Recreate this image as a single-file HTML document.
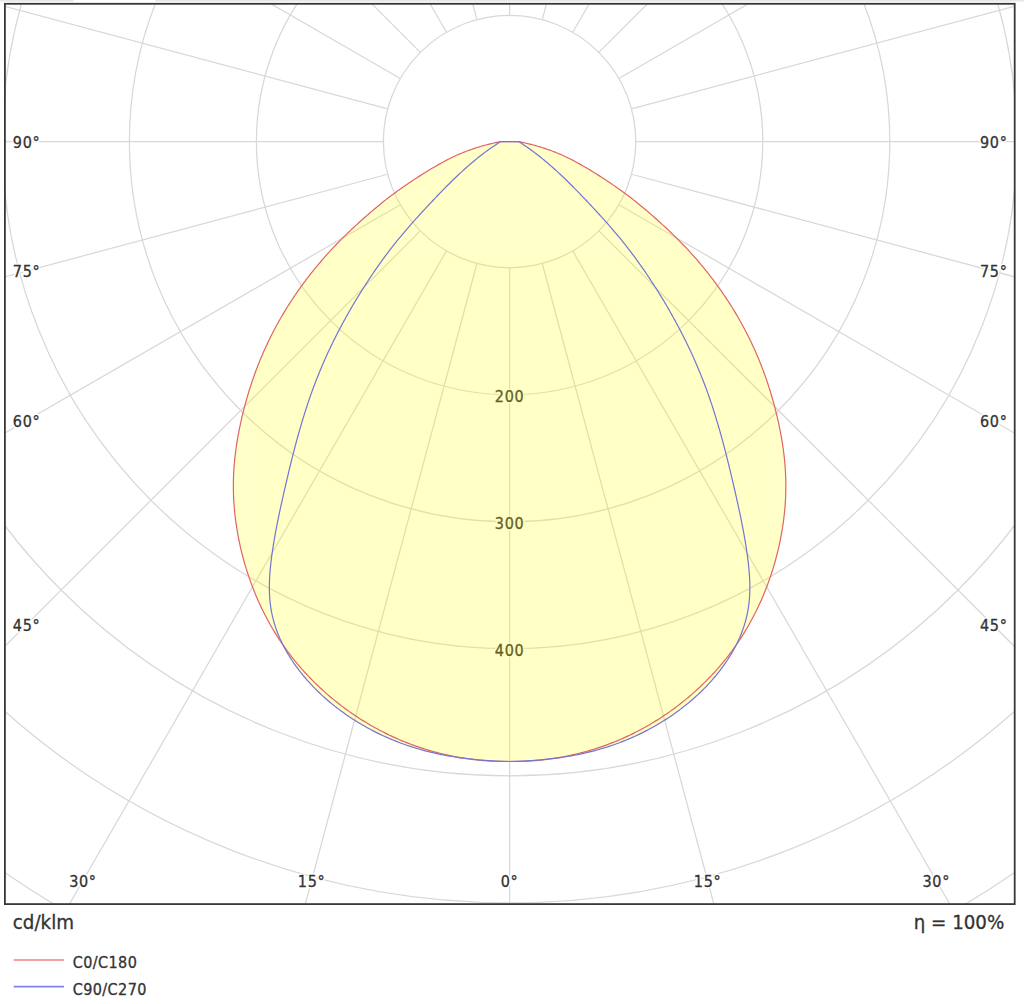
<!DOCTYPE html>
<html><head><meta charset="utf-8"><style>
html,body{margin:0;padding:0;background:#fff;}
body{width:1024px;height:1004px;overflow:hidden;position:relative;}
svg{position:absolute;left:0;top:0;}
</style></head><body>
<svg width="1024" height="1004" viewBox="0 0 1024 1004">
<defs><clipPath id="c"><rect x="4.9" y="3.8" width="1009.8000000000001" height="900.3000000000001"/></clipPath></defs>
<rect x="0" y="0" width="1024" height="1004" fill="#fff"/>
<rect x="0" y="0" width="73.5" height="1.6" fill="#e6e6e6"/><rect x="155.5" y="0" width="868.5" height="1.6" fill="#e6e6e6"/>
<g clip-path="url(#c)">
<g fill="none" stroke="#d8d8d8" stroke-width="1.25">
<circle cx="509.6" cy="141.6" r="126.20"/>
<circle cx="509.6" cy="141.6" r="253.20"/>
<circle cx="509.6" cy="141.6" r="380.20"/>
<circle cx="509.6" cy="141.6" r="507.20"/>
<circle cx="509.6" cy="141.6" r="634.20"/>
<circle cx="509.6" cy="141.6" r="761.20"/>
<circle cx="509.6" cy="141.6" r="888.20"/>
<circle cx="509.6" cy="141.6" r="1015.20"/>
<line x1="509.60" y1="267.80" x2="509.60" y2="1641.60"/>
<line x1="542.26" y1="263.50" x2="897.83" y2="1590.49"/>
<line x1="572.70" y1="250.89" x2="1259.60" y2="1440.64"/>
<line x1="598.84" y1="230.84" x2="1570.26" y2="1202.26"/>
<line x1="618.89" y1="204.70" x2="1808.64" y2="891.60"/>
<line x1="631.50" y1="174.26" x2="1958.49" y2="529.83"/>
<line x1="635.80" y1="141.60" x2="2009.60" y2="141.60"/>
<line x1="631.50" y1="108.94" x2="1958.49" y2="-246.63"/>
<line x1="618.89" y1="78.50" x2="1808.64" y2="-608.40"/>
<line x1="598.84" y1="52.36" x2="1570.26" y2="-919.06"/>
<line x1="572.70" y1="32.31" x2="1259.60" y2="-1157.44"/>
<line x1="542.26" y1="19.70" x2="897.83" y2="-1307.29"/>
<line x1="509.60" y1="15.40" x2="509.60" y2="-1358.40"/>
<line x1="476.94" y1="19.70" x2="121.37" y2="-1307.29"/>
<line x1="446.50" y1="32.31" x2="-240.40" y2="-1157.44"/>
<line x1="420.36" y1="52.36" x2="-551.06" y2="-919.06"/>
<line x1="400.31" y1="78.50" x2="-789.44" y2="-608.40"/>
<line x1="387.70" y1="108.94" x2="-939.29" y2="-246.63"/>
<line x1="383.40" y1="141.60" x2="-990.40" y2="141.60"/>
<line x1="387.70" y1="174.26" x2="-939.29" y2="529.83"/>
<line x1="400.31" y1="204.70" x2="-789.44" y2="891.60"/>
<line x1="420.36" y1="230.84" x2="-551.06" y2="1202.26"/>
<line x1="446.50" y1="250.89" x2="-240.40" y2="1440.64"/>
<line x1="476.94" y1="263.50" x2="121.37" y2="1590.49"/>
</g>
<g font-family="'DejaVu Sans Condensed','DejaVu Sans',sans-serif" font-stretch="condensed" font-size="16" fill="#fff" stroke="#fff" stroke-width="3.2" stroke-linejoin="round" letter-spacing="0.7">
<text x="12.80" y="147.70" text-anchor="start">90°</text>
<text x="1007.60" y="147.70" text-anchor="end">90°</text>
<text x="12.80" y="277.17" text-anchor="start">75°</text>
<text x="1007.60" y="277.17" text-anchor="end">75°</text>
<text x="12.80" y="426.68" text-anchor="start">60°</text>
<text x="1007.60" y="426.68" text-anchor="end">60°</text>
<text x="12.80" y="630.90" text-anchor="start">45°</text>
<text x="1007.60" y="630.90" text-anchor="end">45°</text>
<text x="82.94" y="886.65" text-anchor="middle">30°</text>
<text x="936.26" y="886.65" text-anchor="middle">30°</text>
<text x="311.59" y="886.65" text-anchor="middle">15°</text>
<text x="707.61" y="886.65" text-anchor="middle">15°</text>
<text x="509.60" y="886.65" text-anchor="middle">0°</text>
<text x="509.60" y="401.80" text-anchor="middle">200</text>
<text x="509.60" y="528.80" text-anchor="middle">300</text>
<text x="509.60" y="655.80" text-anchor="middle">400</text>
</g>
<g font-family="'DejaVu Sans Condensed','DejaVu Sans',sans-serif" font-stretch="condensed" font-size="16" fill="#333" stroke="#333" stroke-width="0.3" letter-spacing="0.7">
<text id="L0" x="12.80" y="147.70" text-anchor="start">90°</text>
<text id="L1" x="1007.60" y="147.70" text-anchor="end">90°</text>
<text id="L2" x="12.80" y="277.17" text-anchor="start">75°</text>
<text id="L3" x="1007.60" y="277.17" text-anchor="end">75°</text>
<text id="L4" x="12.80" y="426.68" text-anchor="start">60°</text>
<text id="L5" x="1007.60" y="426.68" text-anchor="end">60°</text>
<text id="L6" x="12.80" y="630.90" text-anchor="start">45°</text>
<text id="L7" x="1007.60" y="630.90" text-anchor="end">45°</text>
<text id="L8" x="82.94" y="886.65" text-anchor="middle">30°</text>
<text id="L9" x="936.26" y="886.65" text-anchor="middle">30°</text>
<text id="L10" x="311.59" y="886.65" text-anchor="middle">15°</text>
<text id="L11" x="707.61" y="886.65" text-anchor="middle">15°</text>
<text id="L12" x="509.60" y="886.65" text-anchor="middle">0°</text>
<text id="L13" x="509.60" y="401.80" text-anchor="middle">200</text>
<text id="L14" x="509.60" y="528.80" text-anchor="middle">300</text>
<text id="L15" x="509.60" y="655.80" text-anchor="middle">400</text>
</g>
<g opacity="0.22"><path d="M509.60,141.60 L500.60,141.60 L497.99,142.13 L495.44,142.68 L492.95,143.25 L490.52,143.83 L488.16,144.42 L485.85,145.02 L483.60,145.64 L481.41,146.26 L479.28,146.89 L477.21,147.53 L475.18,148.18 L473.22,148.83 L471.30,149.48 L469.44,150.14 L467.63,150.80 L465.87,151.46 L464.16,152.12 L462.49,152.78 L460.87,153.44 L459.27,154.11 L457.70,154.78 L456.14,155.47 L454.59,156.18 L453.03,156.92 L451.45,157.68 L449.86,158.47 L448.24,159.29 L446.59,160.15 L444.91,161.04 L443.20,161.96 L441.47,162.91 L439.72,163.88 L437.95,164.88 L436.17,165.91 L434.37,166.95 L432.56,168.02 L430.75,169.10 L428.92,170.20 L427.10,171.32 L425.27,172.44 L423.45,173.58 L421.62,174.73 L419.81,175.88 L418.00,177.04 L416.21,178.20 L414.43,179.36 L412.66,180.52 L410.92,181.68 L409.19,182.84 L407.49,183.99 L405.82,185.13 L404.16,186.27 L402.53,187.40 L400.92,188.53 L399.33,189.66 L397.76,190.79 L396.20,191.92 L394.66,193.04 L393.13,194.18 L391.62,195.31 L390.11,196.45 L388.61,197.59 L387.12,198.74 L385.64,199.90 L384.16,201.07 L382.68,202.25 L381.20,203.45 L379.70,204.67 L378.19,205.92 L376.65,207.19 L375.10,208.49 L373.53,209.81 L371.94,211.16 L370.33,212.53 L368.71,213.93 L367.07,215.35 L365.43,216.79 L363.77,218.26 L362.10,219.75 L360.43,221.25 L358.74,222.78 L357.05,224.32 L355.36,225.88 L353.66,227.46 L351.96,229.05 L350.26,230.66 L348.56,232.29 L346.86,233.93 L345.17,235.58 L343.48,237.25 L341.79,238.92 L340.11,240.61 L338.44,242.31 L336.78,244.01 L335.13,245.73 L333.49,247.45 L331.86,249.18 L330.25,250.92 L328.65,252.67 L327.06,254.42 L325.48,256.18 L323.92,257.95 L322.37,259.72 L320.83,261.51 L319.31,263.29 L317.79,265.09 L316.30,266.89 L314.81,268.70 L313.33,270.52 L311.87,272.34 L310.43,274.17 L308.99,276.01 L307.57,277.85 L306.16,279.71 L304.76,281.56 L303.38,283.43 L302.01,285.30 L300.65,287.17 L299.31,289.05 L297.98,290.94 L296.66,292.84 L295.36,294.74 L294.07,296.65 L292.79,298.56 L291.52,300.48 L290.27,302.41 L289.03,304.34 L287.81,306.28 L286.60,308.22 L285.40,310.17 L284.22,312.12 L283.04,314.08 L281.89,316.05 L280.74,318.02 L279.61,320.00 L278.50,321.98 L277.39,323.97 L276.30,325.96 L275.23,327.96 L274.16,329.96 L273.11,331.97 L272.08,333.99 L271.06,336.01 L270.05,338.03 L269.06,340.06 L268.08,342.09 L267.11,344.13 L266.16,346.18 L265.22,348.23 L264.29,350.28 L263.38,352.34 L262.49,354.40 L261.60,356.47 L260.73,358.54 L259.88,360.62 L259.04,362.70 L258.21,364.79 L257.39,366.88 L256.59,368.98 L255.80,371.08 L255.02,373.19 L254.26,375.30 L253.51,377.42 L252.77,379.54 L252.05,381.67 L251.34,383.80 L250.64,385.94 L249.95,388.08 L249.28,390.23 L248.61,392.39 L247.96,394.55 L247.33,396.71 L246.70,398.88 L246.09,401.06 L245.49,403.24 L244.90,405.43 L244.32,407.62 L243.75,409.82 L243.19,412.03 L242.65,414.24 L242.12,416.45 L241.60,418.68 L241.09,420.90 L240.60,423.13 L240.12,425.37 L239.65,427.61 L239.20,429.86 L238.76,432.11 L238.33,434.37 L237.92,436.63 L237.53,438.89 L237.15,441.16 L236.79,443.43 L236.44,445.71 L236.11,447.99 L235.80,450.27 L235.50,452.56 L235.22,454.85 L234.96,457.14 L234.72,459.43 L234.50,461.73 L234.29,464.03 L234.11,466.34 L233.94,468.64 L233.79,470.95 L233.67,473.26 L233.56,475.57 L233.48,477.88 L233.42,480.20 L233.38,482.51 L233.36,484.83 L233.36,487.15 L233.38,489.46 L233.43,491.78 L233.49,494.10 L233.58,496.42 L233.68,498.74 L233.81,501.06 L233.95,503.38 L234.12,505.69 L234.31,508.01 L234.51,510.32 L234.74,512.64 L234.98,514.95 L235.25,517.26 L235.53,519.57 L235.84,521.87 L236.16,524.17 L236.50,526.47 L236.86,528.77 L237.24,531.06 L237.64,533.35 L238.05,535.64 L238.49,537.92 L238.94,540.20 L239.41,542.48 L239.90,544.74 L240.41,547.01 L240.93,549.27 L241.48,551.52 L242.03,553.77 L242.61,556.02 L243.21,558.25 L243.82,560.48 L244.44,562.71 L245.09,564.93 L245.75,567.14 L246.43,569.34 L247.12,571.54 L247.83,573.73 L248.56,575.91 L249.30,578.09 L250.06,580.26 L250.83,582.41 L251.62,584.57 L252.43,586.71 L253.25,588.84 L254.09,590.97 L254.95,593.09 L255.82,595.20 L256.71,597.30 L257.61,599.39 L258.53,601.47 L259.47,603.55 L260.43,605.61 L261.40,607.67 L262.38,609.72 L263.39,611.76 L264.40,613.79 L265.44,615.81 L266.49,617.82 L267.56,619.83 L268.65,621.82 L269.75,623.80 L270.87,625.78 L272.01,627.74 L273.16,629.70 L274.33,631.64 L275.52,633.58 L276.72,635.50 L277.94,637.42 L279.18,639.32 L280.43,641.22 L281.70,643.10 L282.99,644.98 L284.29,646.84 L285.62,648.70 L286.95,650.54 L288.31,652.38 L289.68,654.20 L291.07,656.01 L292.48,657.81 L293.91,659.60 L295.35,661.38 L296.81,663.15 L298.28,664.90 L299.77,666.65 L301.28,668.38 L302.80,670.10 L304.34,671.81 L305.89,673.51 L307.46,675.20 L309.05,676.87 L310.65,678.53 L312.26,680.18 L313.89,681.81 L315.54,683.43 L317.19,685.04 L318.87,686.64 L320.56,688.22 L322.26,689.79 L323.97,691.34 L325.70,692.89 L327.45,694.41 L329.20,695.93 L330.97,697.43 L332.76,698.91 L334.55,700.38 L336.36,701.84 L338.18,703.28 L340.02,704.71 L341.86,706.12 L343.72,707.52 L345.59,708.90 L347.47,710.27 L349.37,711.62 L351.27,712.95 L353.19,714.27 L355.12,715.58 L357.06,716.86 L359.01,718.13 L360.97,719.39 L362.94,720.63 L364.93,721.85 L366.92,723.06 L368.92,724.24 L370.94,725.41 L372.96,726.57 L374.99,727.71 L377.03,728.82 L379.08,729.93 L381.14,731.01 L383.21,732.08 L385.29,733.12 L387.38,734.15 L389.48,735.17 L391.58,736.16 L393.69,737.13 L395.81,738.09 L397.94,739.03 L400.08,739.95 L402.22,740.85 L404.38,741.73 L406.54,742.59 L408.70,743.43 L410.88,744.26 L413.06,745.07 L415.25,745.85 L417.44,746.62 L419.65,747.37 L421.85,748.10 L424.07,748.81 L426.29,749.50 L428.52,750.18 L430.76,750.83 L433.00,751.47 L435.24,752.08 L437.50,752.68 L439.76,753.26 L442.02,753.81 L444.29,754.35 L446.56,754.87 L448.84,755.37 L451.13,755.85 L453.42,756.31 L455.72,756.76 L458.02,757.18 L460.32,757.58 L462.63,757.96 L464.95,758.33 L467.26,758.67 L469.59,759.00 L471.91,759.30 L474.24,759.59 L476.58,759.86 L478.92,760.10 L481.26,760.33 L483.60,760.53 L485.95,760.72 L488.31,760.89 L490.66,761.04 L493.02,761.16 L495.38,761.27 L497.74,761.36 L500.11,761.43 L502.48,761.47 L504.85,761.50 L507.23,761.51 L509.60,761.50 L509.60,761.50 L511.97,761.51 L514.35,761.50 L516.72,761.47 L519.09,761.43 L521.46,761.36 L523.82,761.27 L526.18,761.16 L528.54,761.04 L530.89,760.89 L533.25,760.72 L535.60,760.53 L537.94,760.33 L540.28,760.10 L542.62,759.86 L544.96,759.59 L547.29,759.30 L549.61,759.00 L551.94,758.67 L554.25,758.33 L556.57,757.96 L558.88,757.58 L561.18,757.18 L563.48,756.76 L565.78,756.31 L568.07,755.85 L570.36,755.37 L572.64,754.87 L574.91,754.35 L577.18,753.81 L579.44,753.26 L581.70,752.68 L583.96,752.08 L586.20,751.47 L588.44,750.83 L590.68,750.18 L592.91,749.50 L595.13,748.81 L597.35,748.10 L599.55,747.37 L601.76,746.62 L603.95,745.85 L606.14,745.07 L608.32,744.26 L610.50,743.43 L612.66,742.59 L614.82,741.73 L616.98,740.85 L619.12,739.95 L621.26,739.03 L623.39,738.09 L625.51,737.13 L627.62,736.16 L629.72,735.17 L631.82,734.15 L633.91,733.12 L635.99,732.08 L638.06,731.01 L640.12,729.93 L642.17,728.82 L644.21,727.71 L646.24,726.57 L648.26,725.41 L650.28,724.24 L652.28,723.06 L654.27,721.85 L656.26,720.63 L658.23,719.39 L660.19,718.13 L662.14,716.86 L664.08,715.58 L666.01,714.27 L667.93,712.95 L669.83,711.62 L671.73,710.27 L673.61,708.90 L675.48,707.52 L677.34,706.12 L679.18,704.71 L681.02,703.28 L682.84,701.84 L684.65,700.38 L686.44,698.91 L688.23,697.43 L690.00,695.93 L691.75,694.41 L693.50,692.89 L695.23,691.34 L696.94,689.79 L698.64,688.22 L700.33,686.64 L702.01,685.04 L703.66,683.43 L705.31,681.81 L706.94,680.18 L708.55,678.53 L710.15,676.87 L711.74,675.20 L713.31,673.51 L714.86,671.81 L716.40,670.10 L717.92,668.38 L719.43,666.65 L720.92,664.90 L722.39,663.15 L723.85,661.38 L725.29,659.60 L726.72,657.81 L728.13,656.01 L729.52,654.20 L730.89,652.38 L732.25,650.54 L733.58,648.70 L734.91,646.84 L736.21,644.98 L737.50,643.10 L738.77,641.22 L740.02,639.32 L741.26,637.42 L742.48,635.50 L743.68,633.58 L744.87,631.64 L746.04,629.70 L747.19,627.74 L748.33,625.78 L749.45,623.80 L750.55,621.82 L751.64,619.83 L752.71,617.82 L753.76,615.81 L754.80,613.79 L755.81,611.76 L756.82,609.72 L757.80,607.67 L758.77,605.61 L759.73,603.55 L760.67,601.47 L761.59,599.39 L762.49,597.30 L763.38,595.20 L764.25,593.09 L765.11,590.97 L765.95,588.84 L766.77,586.71 L767.58,584.57 L768.37,582.41 L769.14,580.26 L769.90,578.09 L770.64,575.91 L771.37,573.73 L772.08,571.54 L772.77,569.34 L773.45,567.14 L774.11,564.93 L774.76,562.71 L775.38,560.48 L775.99,558.25 L776.59,556.02 L777.17,553.77 L777.72,551.52 L778.27,549.27 L778.79,547.01 L779.30,544.74 L779.79,542.48 L780.26,540.20 L780.71,537.92 L781.15,535.64 L781.56,533.35 L781.96,531.06 L782.34,528.77 L782.70,526.47 L783.04,524.17 L783.36,521.87 L783.67,519.57 L783.95,517.26 L784.22,514.95 L784.46,512.64 L784.69,510.32 L784.89,508.01 L785.08,505.69 L785.25,503.38 L785.39,501.06 L785.52,498.74 L785.62,496.42 L785.71,494.10 L785.77,491.78 L785.82,489.46 L785.84,487.15 L785.84,484.83 L785.82,482.51 L785.78,480.20 L785.72,477.88 L785.64,475.57 L785.53,473.26 L785.41,470.95 L785.26,468.64 L785.09,466.34 L784.91,464.03 L784.70,461.73 L784.48,459.43 L784.24,457.14 L783.98,454.85 L783.70,452.56 L783.40,450.27 L783.09,447.99 L782.76,445.71 L782.41,443.43 L782.05,441.16 L781.67,438.89 L781.28,436.63 L780.87,434.37 L780.44,432.11 L780.00,429.86 L779.55,427.61 L779.08,425.37 L778.60,423.13 L778.11,420.90 L777.60,418.68 L777.08,416.45 L776.55,414.24 L776.01,412.03 L775.45,409.82 L774.88,407.62 L774.30,405.43 L773.71,403.24 L773.11,401.06 L772.50,398.88 L771.87,396.71 L771.24,394.55 L770.59,392.39 L769.92,390.23 L769.25,388.08 L768.56,385.94 L767.86,383.80 L767.15,381.67 L766.43,379.54 L765.69,377.42 L764.94,375.30 L764.18,373.19 L763.40,371.08 L762.61,368.98 L761.81,366.88 L760.99,364.79 L760.16,362.70 L759.32,360.62 L758.47,358.54 L757.60,356.47 L756.71,354.40 L755.82,352.34 L754.91,350.28 L753.98,348.23 L753.04,346.18 L752.09,344.13 L751.12,342.09 L750.14,340.06 L749.15,338.03 L748.14,336.01 L747.12,333.99 L746.09,331.97 L745.04,329.96 L743.97,327.96 L742.90,325.96 L741.81,323.97 L740.70,321.98 L739.59,320.00 L738.46,318.02 L737.31,316.05 L736.16,314.08 L734.98,312.12 L733.80,310.17 L732.60,308.22 L731.39,306.28 L730.17,304.34 L728.93,302.41 L727.68,300.48 L726.41,298.56 L725.13,296.65 L723.84,294.74 L722.54,292.84 L721.22,290.94 L719.89,289.05 L718.55,287.17 L717.19,285.30 L715.82,283.43 L714.44,281.56 L713.04,279.71 L711.63,277.85 L710.21,276.01 L708.77,274.17 L707.33,272.34 L705.87,270.52 L704.39,268.70 L702.90,266.89 L701.41,265.09 L699.89,263.29 L698.37,261.51 L696.83,259.72 L695.28,257.95 L693.72,256.18 L692.14,254.42 L690.55,252.67 L688.95,250.92 L687.34,249.18 L685.71,247.45 L684.07,245.73 L682.42,244.01 L680.76,242.31 L679.09,240.61 L677.41,238.92 L675.72,237.25 L674.03,235.58 L672.34,233.93 L670.64,232.29 L668.94,230.66 L667.24,229.05 L665.54,227.46 L663.84,225.88 L662.15,224.32 L660.46,222.78 L658.77,221.25 L657.10,219.75 L655.43,218.26 L653.77,216.79 L652.13,215.35 L650.49,213.93 L648.87,212.53 L647.26,211.16 L645.67,209.81 L644.10,208.49 L642.55,207.19 L641.01,205.92 L639.50,204.67 L638.00,203.45 L636.52,202.25 L635.04,201.07 L633.56,199.90 L632.08,198.74 L630.59,197.59 L629.09,196.45 L627.58,195.31 L626.07,194.18 L624.54,193.04 L623.00,191.92 L621.44,190.79 L619.87,189.66 L618.28,188.53 L616.67,187.40 L615.04,186.27 L613.38,185.13 L611.71,183.99 L610.01,182.84 L608.28,181.68 L606.54,180.52 L604.77,179.36 L602.99,178.20 L601.20,177.04 L599.39,175.88 L597.58,174.73 L595.75,173.58 L593.93,172.44 L592.10,171.32 L590.28,170.20 L588.45,169.10 L586.64,168.02 L584.83,166.95 L583.03,165.91 L581.25,164.88 L579.48,163.88 L577.73,162.91 L576.00,161.96 L574.29,161.04 L572.61,160.15 L570.96,159.29 L569.34,158.47 L567.75,157.68 L566.17,156.92 L564.61,156.18 L563.06,155.47 L561.50,154.78 L559.93,154.11 L558.33,153.44 L556.71,152.78 L555.04,152.12 L553.33,151.46 L551.57,150.80 L549.76,150.14 L547.90,149.48 L545.98,148.83 L544.02,148.18 L541.99,147.53 L539.92,146.89 L537.79,146.26 L535.60,145.64 L533.35,145.02 L531.04,144.42 L528.68,143.83 L526.25,143.25 L523.76,142.68 L521.21,142.13 L518.60,141.60 L509.60,141.60Z" fill="#ff0"/><path d="M509.60,141.60 L500.60,141.60 L499.01,142.61 L497.43,143.62 L495.86,144.65 L494.31,145.69 L492.77,146.74 L491.25,147.80 L489.73,148.86 L488.23,149.94 L486.74,151.02 L485.26,152.12 L483.79,153.22 L482.33,154.33 L480.89,155.45 L479.45,156.58 L478.03,157.72 L476.61,158.86 L475.20,160.01 L473.81,161.17 L472.42,162.33 L471.04,163.50 L469.67,164.68 L468.31,165.86 L466.96,167.05 L465.61,168.25 L464.27,169.45 L462.94,170.65 L461.62,171.86 L460.30,173.08 L458.99,174.30 L457.69,175.53 L456.39,176.76 L455.09,178.00 L453.81,179.24 L452.52,180.49 L451.24,181.74 L449.97,182.99 L448.70,184.25 L447.43,185.52 L446.17,186.79 L444.91,188.06 L443.65,189.34 L442.39,190.62 L441.14,191.91 L439.89,193.20 L438.64,194.49 L437.39,195.79 L436.14,197.10 L434.89,198.40 L433.65,199.72 L432.40,201.03 L431.15,202.35 L429.90,203.68 L428.65,205.01 L427.40,206.35 L426.15,207.70 L424.90,209.05 L423.65,210.41 L422.39,211.77 L421.13,213.14 L419.87,214.52 L418.61,215.91 L417.34,217.31 L416.07,218.71 L414.80,220.12 L413.53,221.54 L412.26,222.97 L410.99,224.41 L409.72,225.87 L408.44,227.33 L407.17,228.80 L405.89,230.28 L404.62,231.77 L403.34,233.28 L402.06,234.80 L400.79,236.33 L399.51,237.87 L398.24,239.42 L396.96,240.99 L395.69,242.57 L394.42,244.17 L393.15,245.78 L391.88,247.40 L390.61,249.04 L389.34,250.69 L388.08,252.35 L386.81,254.03 L385.55,255.72 L384.30,257.42 L383.04,259.13 L381.79,260.86 L380.54,262.60 L379.30,264.34 L378.05,266.10 L376.81,267.87 L375.58,269.65 L374.35,271.43 L373.12,273.23 L371.90,275.03 L370.69,276.85 L369.47,278.67 L368.27,280.50 L367.06,282.33 L365.87,284.18 L364.68,286.03 L363.49,287.88 L362.31,289.75 L361.14,291.61 L359.98,293.49 L358.82,295.36 L357.66,297.25 L356.52,299.14 L355.38,301.03 L354.25,302.92 L353.13,304.82 L352.01,306.72 L350.90,308.62 L349.80,310.53 L348.71,312.44 L347.63,314.35 L346.56,316.26 L345.49,318.17 L344.43,320.09 L343.38,322.01 L342.34,323.93 L341.31,325.85 L340.29,327.78 L339.27,329.71 L338.27,331.64 L337.27,333.57 L336.28,335.51 L335.30,337.45 L334.33,339.39 L333.36,341.34 L332.41,343.28 L331.46,345.23 L330.52,347.19 L329.60,349.15 L328.68,351.11 L327.76,353.07 L326.86,355.04 L325.97,357.01 L325.08,358.98 L324.21,360.96 L323.34,362.94 L322.48,364.92 L321.63,366.91 L320.79,368.90 L319.96,370.90 L319.14,372.90 L318.32,374.90 L317.52,376.91 L316.72,378.92 L315.93,380.94 L315.16,382.96 L314.39,384.98 L313.63,387.01 L312.88,389.04 L312.13,391.08 L311.40,393.12 L310.68,395.17 L309.96,397.21 L309.25,399.27 L308.55,401.32 L307.86,403.38 L307.17,405.44 L306.50,407.51 L305.83,409.58 L305.17,411.65 L304.51,413.73 L303.86,415.81 L303.22,417.89 L302.59,419.97 L301.96,422.06 L301.34,424.14 L300.73,426.23 L300.12,428.33 L299.52,430.42 L298.92,432.52 L298.34,434.62 L297.75,436.72 L297.17,438.82 L296.60,440.93 L296.03,443.03 L295.47,445.14 L294.91,447.24 L294.36,449.35 L293.81,451.46 L293.27,453.57 L292.73,455.69 L292.20,457.80 L291.67,459.91 L291.14,462.02 L290.62,464.14 L290.10,466.25 L289.59,468.37 L289.08,470.48 L288.57,472.59 L288.07,474.71 L287.57,476.82 L287.07,478.94 L286.57,481.05 L286.08,483.16 L285.59,485.27 L285.10,487.38 L284.62,489.49 L284.13,491.60 L283.65,493.71 L283.17,495.82 L282.70,497.92 L282.23,500.03 L281.76,502.14 L281.29,504.25 L280.83,506.35 L280.37,508.46 L279.92,510.57 L279.47,512.69 L279.02,514.80 L278.58,516.92 L278.15,519.03 L277.72,521.15 L277.30,523.28 L276.88,525.40 L276.47,527.53 L276.06,529.67 L275.67,531.80 L275.28,533.95 L274.89,536.09 L274.52,538.24 L274.15,540.40 L273.79,542.56 L273.43,544.72 L273.09,546.89 L272.75,549.07 L272.43,551.25 L272.11,553.44 L271.80,555.63 L271.51,557.83 L271.23,560.03 L270.97,562.23 L270.72,564.44 L270.49,566.64 L270.27,568.85 L270.08,571.06 L269.90,573.27 L269.75,575.48 L269.62,577.69 L269.52,579.90 L269.44,582.10 L269.39,584.30 L269.36,586.50 L269.36,588.70 L269.40,590.89 L269.46,593.07 L269.56,595.25 L269.69,597.42 L269.85,599.59 L270.05,601.74 L270.29,603.89 L270.56,606.03 L270.88,608.17 L271.23,610.29 L271.62,612.40 L272.06,614.50 L272.53,616.59 L273.04,618.67 L273.59,620.74 L274.17,622.80 L274.79,624.85 L275.45,626.89 L276.14,628.91 L276.86,630.93 L277.62,632.93 L278.42,634.93 L279.24,636.91 L280.10,638.88 L281.00,640.83 L281.92,642.78 L282.87,644.71 L283.86,646.63 L284.87,648.54 L285.91,650.43 L286.98,652.31 L288.08,654.18 L289.21,656.04 L290.36,657.88 L291.54,659.71 L292.75,661.53 L293.98,663.33 L295.24,665.12 L296.52,666.89 L297.82,668.66 L299.15,670.40 L300.50,672.13 L301.87,673.85 L303.26,675.56 L304.68,677.24 L306.11,678.92 L307.56,680.58 L309.04,682.22 L310.53,683.85 L312.04,685.46 L313.58,687.06 L315.13,688.64 L316.69,690.21 L318.28,691.76 L319.88,693.30 L321.50,694.82 L323.14,696.32 L324.80,697.81 L326.47,699.28 L328.15,700.74 L329.86,702.18 L331.58,703.60 L333.31,705.01 L335.06,706.40 L336.82,707.77 L338.60,709.13 L340.39,710.47 L342.19,711.79 L344.01,713.10 L345.84,714.39 L347.69,715.66 L349.54,716.92 L351.41,718.16 L353.29,719.38 L355.18,720.58 L357.09,721.77 L359.00,722.94 L360.93,724.09 L362.86,725.22 L364.81,726.34 L366.76,727.43 L368.73,728.51 L370.70,729.57 L372.68,730.61 L374.67,731.64 L376.67,732.64 L378.68,733.63 L380.69,734.60 L382.71,735.55 L384.74,736.48 L386.77,737.39 L388.82,738.29 L390.86,739.16 L392.92,740.02 L394.98,740.85 L397.04,741.67 L399.11,742.47 L401.18,743.24 L403.26,744.00 L405.34,744.74 L407.43,745.46 L409.52,746.16 L411.61,746.84 L413.71,747.51 L415.81,748.15 L417.92,748.78 L420.03,749.39 L422.14,749.98 L424.26,750.56 L426.39,751.12 L428.51,751.66 L430.64,752.18 L432.78,752.69 L434.92,753.18 L437.06,753.65 L439.20,754.11 L441.35,754.55 L443.51,754.98 L445.66,755.39 L447.82,755.79 L449.99,756.17 L452.15,756.53 L454.33,756.89 L456.50,757.22 L458.68,757.55 L460.86,757.85 L463.04,758.15 L465.23,758.43 L467.42,758.70 L469.61,758.95 L471.81,759.19 L474.01,759.42 L476.21,759.64 L478.42,759.84 L480.63,760.03 L482.84,760.21 L485.06,760.38 L487.27,760.54 L489.50,760.68 L491.72,760.81 L493.94,760.94 L496.17,761.05 L498.41,761.15 L500.64,761.24 L502.88,761.32 L505.12,761.39 L507.36,761.45 L509.60,761.50 L509.60,761.50 L511.84,761.45 L514.08,761.39 L516.32,761.32 L518.56,761.24 L520.79,761.15 L523.03,761.05 L525.26,760.94 L527.48,760.81 L529.70,760.68 L531.93,760.54 L534.14,760.38 L536.36,760.21 L538.57,760.03 L540.78,759.84 L542.99,759.64 L545.19,759.42 L547.39,759.19 L549.59,758.95 L551.78,758.70 L553.97,758.43 L556.16,758.15 L558.34,757.85 L560.52,757.55 L562.70,757.22 L564.87,756.89 L567.05,756.53 L569.21,756.17 L571.38,755.79 L573.54,755.39 L575.69,754.98 L577.85,754.55 L580.00,754.11 L582.14,753.65 L584.28,753.18 L586.42,752.69 L588.56,752.18 L590.69,751.66 L592.81,751.12 L594.94,750.56 L597.06,749.98 L599.17,749.39 L601.28,748.78 L603.39,748.15 L605.49,747.51 L607.59,746.84 L609.68,746.16 L611.77,745.46 L613.86,744.74 L615.94,744.00 L618.02,743.24 L620.09,742.47 L622.16,741.67 L624.22,740.85 L626.28,740.02 L628.34,739.16 L630.38,738.29 L632.43,737.39 L634.46,736.48 L636.49,735.55 L638.51,734.60 L640.52,733.63 L642.53,732.64 L644.53,731.64 L646.52,730.61 L648.50,729.57 L650.47,728.51 L652.44,727.43 L654.39,726.34 L656.34,725.22 L658.27,724.09 L660.20,722.94 L662.11,721.77 L664.02,720.58 L665.91,719.38 L667.79,718.16 L669.66,716.92 L671.51,715.66 L673.36,714.39 L675.19,713.10 L677.01,711.79 L678.81,710.47 L680.60,709.13 L682.38,707.77 L684.14,706.40 L685.89,705.01 L687.62,703.60 L689.34,702.18 L691.05,700.74 L692.73,699.28 L694.40,697.81 L696.06,696.32 L697.70,694.82 L699.32,693.30 L700.92,691.76 L702.51,690.21 L704.07,688.64 L705.62,687.06 L707.16,685.46 L708.67,683.85 L710.16,682.22 L711.64,680.58 L713.09,678.92 L714.52,677.24 L715.94,675.56 L717.33,673.85 L718.70,672.13 L720.05,670.40 L721.38,668.66 L722.68,666.89 L723.96,665.12 L725.22,663.33 L726.45,661.53 L727.66,659.71 L728.84,657.88 L729.99,656.04 L731.12,654.18 L732.22,652.31 L733.29,650.43 L734.33,648.54 L735.34,646.63 L736.33,644.71 L737.28,642.78 L738.20,640.83 L739.10,638.88 L739.96,636.91 L740.78,634.93 L741.58,632.93 L742.34,630.93 L743.06,628.91 L743.75,626.89 L744.41,624.85 L745.03,622.80 L745.61,620.74 L746.16,618.67 L746.67,616.59 L747.14,614.50 L747.58,612.40 L747.97,610.29 L748.32,608.17 L748.64,606.03 L748.91,603.89 L749.15,601.74 L749.35,599.59 L749.51,597.42 L749.64,595.25 L749.74,593.07 L749.80,590.89 L749.84,588.70 L749.84,586.50 L749.81,584.30 L749.76,582.10 L749.68,579.90 L749.58,577.69 L749.45,575.48 L749.30,573.27 L749.12,571.06 L748.93,568.85 L748.71,566.64 L748.48,564.44 L748.23,562.23 L747.97,560.03 L747.69,557.83 L747.40,555.63 L747.09,553.44 L746.77,551.25 L746.45,549.07 L746.11,546.89 L745.77,544.72 L745.41,542.56 L745.05,540.40 L744.68,538.24 L744.31,536.09 L743.92,533.95 L743.53,531.80 L743.14,529.67 L742.73,527.53 L742.32,525.40 L741.90,523.28 L741.48,521.15 L741.05,519.03 L740.62,516.92 L740.18,514.80 L739.73,512.69 L739.28,510.57 L738.83,508.46 L738.37,506.35 L737.91,504.25 L737.44,502.14 L736.97,500.03 L736.50,497.92 L736.03,495.82 L735.55,493.71 L735.07,491.60 L734.58,489.49 L734.10,487.38 L733.61,485.27 L733.12,483.16 L732.63,481.05 L732.13,478.94 L731.63,476.82 L731.13,474.71 L730.63,472.59 L730.12,470.48 L729.61,468.37 L729.10,466.25 L728.58,464.14 L728.06,462.02 L727.53,459.91 L727.00,457.80 L726.47,455.69 L725.93,453.57 L725.39,451.46 L724.84,449.35 L724.29,447.24 L723.73,445.14 L723.17,443.03 L722.60,440.93 L722.03,438.82 L721.45,436.72 L720.86,434.62 L720.28,432.52 L719.68,430.42 L719.08,428.33 L718.47,426.23 L717.86,424.14 L717.24,422.06 L716.61,419.97 L715.98,417.89 L715.34,415.81 L714.69,413.73 L714.03,411.65 L713.37,409.58 L712.70,407.51 L712.03,405.44 L711.34,403.38 L710.65,401.32 L709.95,399.27 L709.24,397.21 L708.52,395.17 L707.80,393.12 L707.07,391.08 L706.32,389.04 L705.57,387.01 L704.81,384.98 L704.04,382.96 L703.27,380.94 L702.48,378.92 L701.68,376.91 L700.88,374.90 L700.06,372.90 L699.24,370.90 L698.41,368.90 L697.57,366.91 L696.72,364.92 L695.86,362.94 L694.99,360.96 L694.12,358.98 L693.23,357.01 L692.34,355.04 L691.44,353.07 L690.52,351.11 L689.60,349.15 L688.68,347.19 L687.74,345.23 L686.79,343.28 L685.84,341.34 L684.87,339.39 L683.90,337.45 L682.92,335.51 L681.93,333.57 L680.93,331.64 L679.93,329.71 L678.91,327.78 L677.89,325.85 L676.86,323.93 L675.82,322.01 L674.77,320.09 L673.71,318.17 L672.64,316.26 L671.57,314.35 L670.49,312.44 L669.40,310.53 L668.30,308.62 L667.19,306.72 L666.07,304.82 L664.95,302.92 L663.82,301.03 L662.68,299.14 L661.54,297.25 L660.38,295.36 L659.22,293.49 L658.06,291.61 L656.89,289.75 L655.71,287.88 L654.52,286.03 L653.33,284.18 L652.14,282.33 L650.93,280.50 L649.73,278.67 L648.51,276.85 L647.30,275.03 L646.08,273.23 L644.85,271.43 L643.62,269.65 L642.39,267.87 L641.15,266.10 L639.90,264.34 L638.66,262.60 L637.41,260.86 L636.16,259.13 L634.90,257.42 L633.65,255.72 L632.39,254.03 L631.12,252.35 L629.86,250.69 L628.59,249.04 L627.32,247.40 L626.05,245.78 L624.78,244.17 L623.51,242.57 L622.24,240.99 L620.96,239.42 L619.69,237.87 L618.41,236.33 L617.14,234.80 L615.86,233.28 L614.58,231.77 L613.31,230.28 L612.03,228.80 L610.76,227.33 L609.48,225.87 L608.21,224.41 L606.94,222.97 L605.67,221.54 L604.40,220.12 L603.13,218.71 L601.86,217.31 L600.59,215.91 L599.33,214.52 L598.07,213.14 L596.81,211.77 L595.55,210.41 L594.30,209.05 L593.05,207.70 L591.80,206.35 L590.55,205.01 L589.30,203.68 L588.05,202.35 L586.80,201.03 L585.55,199.72 L584.31,198.40 L583.06,197.10 L581.81,195.79 L580.56,194.49 L579.31,193.20 L578.06,191.91 L576.81,190.62 L575.55,189.34 L574.29,188.06 L573.03,186.79 L571.77,185.52 L570.50,184.25 L569.23,182.99 L567.96,181.74 L566.68,180.49 L565.39,179.24 L564.11,178.00 L562.81,176.76 L561.51,175.53 L560.21,174.30 L558.90,173.08 L557.58,171.86 L556.26,170.65 L554.93,169.45 L553.59,168.25 L552.24,167.05 L550.89,165.86 L549.53,164.68 L548.16,163.50 L546.78,162.33 L545.39,161.17 L544.00,160.01 L542.59,158.86 L541.17,157.72 L539.75,156.58 L538.31,155.45 L536.87,154.33 L535.41,153.22 L533.94,152.12 L532.46,151.02 L530.97,149.94 L529.47,148.86 L527.95,147.80 L526.43,146.74 L524.89,145.69 L523.34,144.65 L521.77,143.62 L520.19,142.61 L518.60,141.60 L509.60,141.60Z" fill="#ff0"/></g>
<path d="M509.60,141.60 L500.60,141.60 L497.99,142.13 L495.44,142.68 L492.95,143.25 L490.52,143.83 L488.16,144.42 L485.85,145.02 L483.60,145.64 L481.41,146.26 L479.28,146.89 L477.21,147.53 L475.18,148.18 L473.22,148.83 L471.30,149.48 L469.44,150.14 L467.63,150.80 L465.87,151.46 L464.16,152.12 L462.49,152.78 L460.87,153.44 L459.27,154.11 L457.70,154.78 L456.14,155.47 L454.59,156.18 L453.03,156.92 L451.45,157.68 L449.86,158.47 L448.24,159.29 L446.59,160.15 L444.91,161.04 L443.20,161.96 L441.47,162.91 L439.72,163.88 L437.95,164.88 L436.17,165.91 L434.37,166.95 L432.56,168.02 L430.75,169.10 L428.92,170.20 L427.10,171.32 L425.27,172.44 L423.45,173.58 L421.62,174.73 L419.81,175.88 L418.00,177.04 L416.21,178.20 L414.43,179.36 L412.66,180.52 L410.92,181.68 L409.19,182.84 L407.49,183.99 L405.82,185.13 L404.16,186.27 L402.53,187.40 L400.92,188.53 L399.33,189.66 L397.76,190.79 L396.20,191.92 L394.66,193.04 L393.13,194.18 L391.62,195.31 L390.11,196.45 L388.61,197.59 L387.12,198.74 L385.64,199.90 L384.16,201.07 L382.68,202.25 L381.20,203.45 L379.70,204.67 L378.19,205.92 L376.65,207.19 L375.10,208.49 L373.53,209.81 L371.94,211.16 L370.33,212.53 L368.71,213.93 L367.07,215.35 L365.43,216.79 L363.77,218.26 L362.10,219.75 L360.43,221.25 L358.74,222.78 L357.05,224.32 L355.36,225.88 L353.66,227.46 L351.96,229.05 L350.26,230.66 L348.56,232.29 L346.86,233.93 L345.17,235.58 L343.48,237.25 L341.79,238.92 L340.11,240.61 L338.44,242.31 L336.78,244.01 L335.13,245.73 L333.49,247.45 L331.86,249.18 L330.25,250.92 L328.65,252.67 L327.06,254.42 L325.48,256.18 L323.92,257.95 L322.37,259.72 L320.83,261.51 L319.31,263.29 L317.79,265.09 L316.30,266.89 L314.81,268.70 L313.33,270.52 L311.87,272.34 L310.43,274.17 L308.99,276.01 L307.57,277.85 L306.16,279.71 L304.76,281.56 L303.38,283.43 L302.01,285.30 L300.65,287.17 L299.31,289.05 L297.98,290.94 L296.66,292.84 L295.36,294.74 L294.07,296.65 L292.79,298.56 L291.52,300.48 L290.27,302.41 L289.03,304.34 L287.81,306.28 L286.60,308.22 L285.40,310.17 L284.22,312.12 L283.04,314.08 L281.89,316.05 L280.74,318.02 L279.61,320.00 L278.50,321.98 L277.39,323.97 L276.30,325.96 L275.23,327.96 L274.16,329.96 L273.11,331.97 L272.08,333.99 L271.06,336.01 L270.05,338.03 L269.06,340.06 L268.08,342.09 L267.11,344.13 L266.16,346.18 L265.22,348.23 L264.29,350.28 L263.38,352.34 L262.49,354.40 L261.60,356.47 L260.73,358.54 L259.88,360.62 L259.04,362.70 L258.21,364.79 L257.39,366.88 L256.59,368.98 L255.80,371.08 L255.02,373.19 L254.26,375.30 L253.51,377.42 L252.77,379.54 L252.05,381.67 L251.34,383.80 L250.64,385.94 L249.95,388.08 L249.28,390.23 L248.61,392.39 L247.96,394.55 L247.33,396.71 L246.70,398.88 L246.09,401.06 L245.49,403.24 L244.90,405.43 L244.32,407.62 L243.75,409.82 L243.19,412.03 L242.65,414.24 L242.12,416.45 L241.60,418.68 L241.09,420.90 L240.60,423.13 L240.12,425.37 L239.65,427.61 L239.20,429.86 L238.76,432.11 L238.33,434.37 L237.92,436.63 L237.53,438.89 L237.15,441.16 L236.79,443.43 L236.44,445.71 L236.11,447.99 L235.80,450.27 L235.50,452.56 L235.22,454.85 L234.96,457.14 L234.72,459.43 L234.50,461.73 L234.29,464.03 L234.11,466.34 L233.94,468.64 L233.79,470.95 L233.67,473.26 L233.56,475.57 L233.48,477.88 L233.42,480.20 L233.38,482.51 L233.36,484.83 L233.36,487.15 L233.38,489.46 L233.43,491.78 L233.49,494.10 L233.58,496.42 L233.68,498.74 L233.81,501.06 L233.95,503.38 L234.12,505.69 L234.31,508.01 L234.51,510.32 L234.74,512.64 L234.98,514.95 L235.25,517.26 L235.53,519.57 L235.84,521.87 L236.16,524.17 L236.50,526.47 L236.86,528.77 L237.24,531.06 L237.64,533.35 L238.05,535.64 L238.49,537.92 L238.94,540.20 L239.41,542.48 L239.90,544.74 L240.41,547.01 L240.93,549.27 L241.48,551.52 L242.03,553.77 L242.61,556.02 L243.21,558.25 L243.82,560.48 L244.44,562.71 L245.09,564.93 L245.75,567.14 L246.43,569.34 L247.12,571.54 L247.83,573.73 L248.56,575.91 L249.30,578.09 L250.06,580.26 L250.83,582.41 L251.62,584.57 L252.43,586.71 L253.25,588.84 L254.09,590.97 L254.95,593.09 L255.82,595.20 L256.71,597.30 L257.61,599.39 L258.53,601.47 L259.47,603.55 L260.43,605.61 L261.40,607.67 L262.38,609.72 L263.39,611.76 L264.40,613.79 L265.44,615.81 L266.49,617.82 L267.56,619.83 L268.65,621.82 L269.75,623.80 L270.87,625.78 L272.01,627.74 L273.16,629.70 L274.33,631.64 L275.52,633.58 L276.72,635.50 L277.94,637.42 L279.18,639.32 L280.43,641.22 L281.70,643.10 L282.99,644.98 L284.29,646.84 L285.62,648.70 L286.95,650.54 L288.31,652.38 L289.68,654.20 L291.07,656.01 L292.48,657.81 L293.91,659.60 L295.35,661.38 L296.81,663.15 L298.28,664.90 L299.77,666.65 L301.28,668.38 L302.80,670.10 L304.34,671.81 L305.89,673.51 L307.46,675.20 L309.05,676.87 L310.65,678.53 L312.26,680.18 L313.89,681.81 L315.54,683.43 L317.19,685.04 L318.87,686.64 L320.56,688.22 L322.26,689.79 L323.97,691.34 L325.70,692.89 L327.45,694.41 L329.20,695.93 L330.97,697.43 L332.76,698.91 L334.55,700.38 L336.36,701.84 L338.18,703.28 L340.02,704.71 L341.86,706.12 L343.72,707.52 L345.59,708.90 L347.47,710.27 L349.37,711.62 L351.27,712.95 L353.19,714.27 L355.12,715.58 L357.06,716.86 L359.01,718.13 L360.97,719.39 L362.94,720.63 L364.93,721.85 L366.92,723.06 L368.92,724.24 L370.94,725.41 L372.96,726.57 L374.99,727.71 L377.03,728.82 L379.08,729.93 L381.14,731.01 L383.21,732.08 L385.29,733.12 L387.38,734.15 L389.48,735.17 L391.58,736.16 L393.69,737.13 L395.81,738.09 L397.94,739.03 L400.08,739.95 L402.22,740.85 L404.38,741.73 L406.54,742.59 L408.70,743.43 L410.88,744.26 L413.06,745.07 L415.25,745.85 L417.44,746.62 L419.65,747.37 L421.85,748.10 L424.07,748.81 L426.29,749.50 L428.52,750.18 L430.76,750.83 L433.00,751.47 L435.24,752.08 L437.50,752.68 L439.76,753.26 L442.02,753.81 L444.29,754.35 L446.56,754.87 L448.84,755.37 L451.13,755.85 L453.42,756.31 L455.72,756.76 L458.02,757.18 L460.32,757.58 L462.63,757.96 L464.95,758.33 L467.26,758.67 L469.59,759.00 L471.91,759.30 L474.24,759.59 L476.58,759.86 L478.92,760.10 L481.26,760.33 L483.60,760.53 L485.95,760.72 L488.31,760.89 L490.66,761.04 L493.02,761.16 L495.38,761.27 L497.74,761.36 L500.11,761.43 L502.48,761.47 L504.85,761.50 L507.23,761.51 L509.60,761.50 L509.60,761.50 L511.97,761.51 L514.35,761.50 L516.72,761.47 L519.09,761.43 L521.46,761.36 L523.82,761.27 L526.18,761.16 L528.54,761.04 L530.89,760.89 L533.25,760.72 L535.60,760.53 L537.94,760.33 L540.28,760.10 L542.62,759.86 L544.96,759.59 L547.29,759.30 L549.61,759.00 L551.94,758.67 L554.25,758.33 L556.57,757.96 L558.88,757.58 L561.18,757.18 L563.48,756.76 L565.78,756.31 L568.07,755.85 L570.36,755.37 L572.64,754.87 L574.91,754.35 L577.18,753.81 L579.44,753.26 L581.70,752.68 L583.96,752.08 L586.20,751.47 L588.44,750.83 L590.68,750.18 L592.91,749.50 L595.13,748.81 L597.35,748.10 L599.55,747.37 L601.76,746.62 L603.95,745.85 L606.14,745.07 L608.32,744.26 L610.50,743.43 L612.66,742.59 L614.82,741.73 L616.98,740.85 L619.12,739.95 L621.26,739.03 L623.39,738.09 L625.51,737.13 L627.62,736.16 L629.72,735.17 L631.82,734.15 L633.91,733.12 L635.99,732.08 L638.06,731.01 L640.12,729.93 L642.17,728.82 L644.21,727.71 L646.24,726.57 L648.26,725.41 L650.28,724.24 L652.28,723.06 L654.27,721.85 L656.26,720.63 L658.23,719.39 L660.19,718.13 L662.14,716.86 L664.08,715.58 L666.01,714.27 L667.93,712.95 L669.83,711.62 L671.73,710.27 L673.61,708.90 L675.48,707.52 L677.34,706.12 L679.18,704.71 L681.02,703.28 L682.84,701.84 L684.65,700.38 L686.44,698.91 L688.23,697.43 L690.00,695.93 L691.75,694.41 L693.50,692.89 L695.23,691.34 L696.94,689.79 L698.64,688.22 L700.33,686.64 L702.01,685.04 L703.66,683.43 L705.31,681.81 L706.94,680.18 L708.55,678.53 L710.15,676.87 L711.74,675.20 L713.31,673.51 L714.86,671.81 L716.40,670.10 L717.92,668.38 L719.43,666.65 L720.92,664.90 L722.39,663.15 L723.85,661.38 L725.29,659.60 L726.72,657.81 L728.13,656.01 L729.52,654.20 L730.89,652.38 L732.25,650.54 L733.58,648.70 L734.91,646.84 L736.21,644.98 L737.50,643.10 L738.77,641.22 L740.02,639.32 L741.26,637.42 L742.48,635.50 L743.68,633.58 L744.87,631.64 L746.04,629.70 L747.19,627.74 L748.33,625.78 L749.45,623.80 L750.55,621.82 L751.64,619.83 L752.71,617.82 L753.76,615.81 L754.80,613.79 L755.81,611.76 L756.82,609.72 L757.80,607.67 L758.77,605.61 L759.73,603.55 L760.67,601.47 L761.59,599.39 L762.49,597.30 L763.38,595.20 L764.25,593.09 L765.11,590.97 L765.95,588.84 L766.77,586.71 L767.58,584.57 L768.37,582.41 L769.14,580.26 L769.90,578.09 L770.64,575.91 L771.37,573.73 L772.08,571.54 L772.77,569.34 L773.45,567.14 L774.11,564.93 L774.76,562.71 L775.38,560.48 L775.99,558.25 L776.59,556.02 L777.17,553.77 L777.72,551.52 L778.27,549.27 L778.79,547.01 L779.30,544.74 L779.79,542.48 L780.26,540.20 L780.71,537.92 L781.15,535.64 L781.56,533.35 L781.96,531.06 L782.34,528.77 L782.70,526.47 L783.04,524.17 L783.36,521.87 L783.67,519.57 L783.95,517.26 L784.22,514.95 L784.46,512.64 L784.69,510.32 L784.89,508.01 L785.08,505.69 L785.25,503.38 L785.39,501.06 L785.52,498.74 L785.62,496.42 L785.71,494.10 L785.77,491.78 L785.82,489.46 L785.84,487.15 L785.84,484.83 L785.82,482.51 L785.78,480.20 L785.72,477.88 L785.64,475.57 L785.53,473.26 L785.41,470.95 L785.26,468.64 L785.09,466.34 L784.91,464.03 L784.70,461.73 L784.48,459.43 L784.24,457.14 L783.98,454.85 L783.70,452.56 L783.40,450.27 L783.09,447.99 L782.76,445.71 L782.41,443.43 L782.05,441.16 L781.67,438.89 L781.28,436.63 L780.87,434.37 L780.44,432.11 L780.00,429.86 L779.55,427.61 L779.08,425.37 L778.60,423.13 L778.11,420.90 L777.60,418.68 L777.08,416.45 L776.55,414.24 L776.01,412.03 L775.45,409.82 L774.88,407.62 L774.30,405.43 L773.71,403.24 L773.11,401.06 L772.50,398.88 L771.87,396.71 L771.24,394.55 L770.59,392.39 L769.92,390.23 L769.25,388.08 L768.56,385.94 L767.86,383.80 L767.15,381.67 L766.43,379.54 L765.69,377.42 L764.94,375.30 L764.18,373.19 L763.40,371.08 L762.61,368.98 L761.81,366.88 L760.99,364.79 L760.16,362.70 L759.32,360.62 L758.47,358.54 L757.60,356.47 L756.71,354.40 L755.82,352.34 L754.91,350.28 L753.98,348.23 L753.04,346.18 L752.09,344.13 L751.12,342.09 L750.14,340.06 L749.15,338.03 L748.14,336.01 L747.12,333.99 L746.09,331.97 L745.04,329.96 L743.97,327.96 L742.90,325.96 L741.81,323.97 L740.70,321.98 L739.59,320.00 L738.46,318.02 L737.31,316.05 L736.16,314.08 L734.98,312.12 L733.80,310.17 L732.60,308.22 L731.39,306.28 L730.17,304.34 L728.93,302.41 L727.68,300.48 L726.41,298.56 L725.13,296.65 L723.84,294.74 L722.54,292.84 L721.22,290.94 L719.89,289.05 L718.55,287.17 L717.19,285.30 L715.82,283.43 L714.44,281.56 L713.04,279.71 L711.63,277.85 L710.21,276.01 L708.77,274.17 L707.33,272.34 L705.87,270.52 L704.39,268.70 L702.90,266.89 L701.41,265.09 L699.89,263.29 L698.37,261.51 L696.83,259.72 L695.28,257.95 L693.72,256.18 L692.14,254.42 L690.55,252.67 L688.95,250.92 L687.34,249.18 L685.71,247.45 L684.07,245.73 L682.42,244.01 L680.76,242.31 L679.09,240.61 L677.41,238.92 L675.72,237.25 L674.03,235.58 L672.34,233.93 L670.64,232.29 L668.94,230.66 L667.24,229.05 L665.54,227.46 L663.84,225.88 L662.15,224.32 L660.46,222.78 L658.77,221.25 L657.10,219.75 L655.43,218.26 L653.77,216.79 L652.13,215.35 L650.49,213.93 L648.87,212.53 L647.26,211.16 L645.67,209.81 L644.10,208.49 L642.55,207.19 L641.01,205.92 L639.50,204.67 L638.00,203.45 L636.52,202.25 L635.04,201.07 L633.56,199.90 L632.08,198.74 L630.59,197.59 L629.09,196.45 L627.58,195.31 L626.07,194.18 L624.54,193.04 L623.00,191.92 L621.44,190.79 L619.87,189.66 L618.28,188.53 L616.67,187.40 L615.04,186.27 L613.38,185.13 L611.71,183.99 L610.01,182.84 L608.28,181.68 L606.54,180.52 L604.77,179.36 L602.99,178.20 L601.20,177.04 L599.39,175.88 L597.58,174.73 L595.75,173.58 L593.93,172.44 L592.10,171.32 L590.28,170.20 L588.45,169.10 L586.64,168.02 L584.83,166.95 L583.03,165.91 L581.25,164.88 L579.48,163.88 L577.73,162.91 L576.00,161.96 L574.29,161.04 L572.61,160.15 L570.96,159.29 L569.34,158.47 L567.75,157.68 L566.17,156.92 L564.61,156.18 L563.06,155.47 L561.50,154.78 L559.93,154.11 L558.33,153.44 L556.71,152.78 L555.04,152.12 L553.33,151.46 L551.57,150.80 L549.76,150.14 L547.90,149.48 L545.98,148.83 L544.02,148.18 L541.99,147.53 L539.92,146.89 L537.79,146.26 L535.60,145.64 L533.35,145.02 L531.04,144.42 L528.68,143.83 L526.25,143.25 L523.76,142.68 L521.21,142.13 L518.60,141.60 L509.60,141.60Z" fill="none" stroke="#e06464" stroke-width="1.2" stroke-linejoin="round"/>
<path d="M509.60,141.60 L500.60,141.60 L499.01,142.61 L497.43,143.62 L495.86,144.65 L494.31,145.69 L492.77,146.74 L491.25,147.80 L489.73,148.86 L488.23,149.94 L486.74,151.02 L485.26,152.12 L483.79,153.22 L482.33,154.33 L480.89,155.45 L479.45,156.58 L478.03,157.72 L476.61,158.86 L475.20,160.01 L473.81,161.17 L472.42,162.33 L471.04,163.50 L469.67,164.68 L468.31,165.86 L466.96,167.05 L465.61,168.25 L464.27,169.45 L462.94,170.65 L461.62,171.86 L460.30,173.08 L458.99,174.30 L457.69,175.53 L456.39,176.76 L455.09,178.00 L453.81,179.24 L452.52,180.49 L451.24,181.74 L449.97,182.99 L448.70,184.25 L447.43,185.52 L446.17,186.79 L444.91,188.06 L443.65,189.34 L442.39,190.62 L441.14,191.91 L439.89,193.20 L438.64,194.49 L437.39,195.79 L436.14,197.10 L434.89,198.40 L433.65,199.72 L432.40,201.03 L431.15,202.35 L429.90,203.68 L428.65,205.01 L427.40,206.35 L426.15,207.70 L424.90,209.05 L423.65,210.41 L422.39,211.77 L421.13,213.14 L419.87,214.52 L418.61,215.91 L417.34,217.31 L416.07,218.71 L414.80,220.12 L413.53,221.54 L412.26,222.97 L410.99,224.41 L409.72,225.87 L408.44,227.33 L407.17,228.80 L405.89,230.28 L404.62,231.77 L403.34,233.28 L402.06,234.80 L400.79,236.33 L399.51,237.87 L398.24,239.42 L396.96,240.99 L395.69,242.57 L394.42,244.17 L393.15,245.78 L391.88,247.40 L390.61,249.04 L389.34,250.69 L388.08,252.35 L386.81,254.03 L385.55,255.72 L384.30,257.42 L383.04,259.13 L381.79,260.86 L380.54,262.60 L379.30,264.34 L378.05,266.10 L376.81,267.87 L375.58,269.65 L374.35,271.43 L373.12,273.23 L371.90,275.03 L370.69,276.85 L369.47,278.67 L368.27,280.50 L367.06,282.33 L365.87,284.18 L364.68,286.03 L363.49,287.88 L362.31,289.75 L361.14,291.61 L359.98,293.49 L358.82,295.36 L357.66,297.25 L356.52,299.14 L355.38,301.03 L354.25,302.92 L353.13,304.82 L352.01,306.72 L350.90,308.62 L349.80,310.53 L348.71,312.44 L347.63,314.35 L346.56,316.26 L345.49,318.17 L344.43,320.09 L343.38,322.01 L342.34,323.93 L341.31,325.85 L340.29,327.78 L339.27,329.71 L338.27,331.64 L337.27,333.57 L336.28,335.51 L335.30,337.45 L334.33,339.39 L333.36,341.34 L332.41,343.28 L331.46,345.23 L330.52,347.19 L329.60,349.15 L328.68,351.11 L327.76,353.07 L326.86,355.04 L325.97,357.01 L325.08,358.98 L324.21,360.96 L323.34,362.94 L322.48,364.92 L321.63,366.91 L320.79,368.90 L319.96,370.90 L319.14,372.90 L318.32,374.90 L317.52,376.91 L316.72,378.92 L315.93,380.94 L315.16,382.96 L314.39,384.98 L313.63,387.01 L312.88,389.04 L312.13,391.08 L311.40,393.12 L310.68,395.17 L309.96,397.21 L309.25,399.27 L308.55,401.32 L307.86,403.38 L307.17,405.44 L306.50,407.51 L305.83,409.58 L305.17,411.65 L304.51,413.73 L303.86,415.81 L303.22,417.89 L302.59,419.97 L301.96,422.06 L301.34,424.14 L300.73,426.23 L300.12,428.33 L299.52,430.42 L298.92,432.52 L298.34,434.62 L297.75,436.72 L297.17,438.82 L296.60,440.93 L296.03,443.03 L295.47,445.14 L294.91,447.24 L294.36,449.35 L293.81,451.46 L293.27,453.57 L292.73,455.69 L292.20,457.80 L291.67,459.91 L291.14,462.02 L290.62,464.14 L290.10,466.25 L289.59,468.37 L289.08,470.48 L288.57,472.59 L288.07,474.71 L287.57,476.82 L287.07,478.94 L286.57,481.05 L286.08,483.16 L285.59,485.27 L285.10,487.38 L284.62,489.49 L284.13,491.60 L283.65,493.71 L283.17,495.82 L282.70,497.92 L282.23,500.03 L281.76,502.14 L281.29,504.25 L280.83,506.35 L280.37,508.46 L279.92,510.57 L279.47,512.69 L279.02,514.80 L278.58,516.92 L278.15,519.03 L277.72,521.15 L277.30,523.28 L276.88,525.40 L276.47,527.53 L276.06,529.67 L275.67,531.80 L275.28,533.95 L274.89,536.09 L274.52,538.24 L274.15,540.40 L273.79,542.56 L273.43,544.72 L273.09,546.89 L272.75,549.07 L272.43,551.25 L272.11,553.44 L271.80,555.63 L271.51,557.83 L271.23,560.03 L270.97,562.23 L270.72,564.44 L270.49,566.64 L270.27,568.85 L270.08,571.06 L269.90,573.27 L269.75,575.48 L269.62,577.69 L269.52,579.90 L269.44,582.10 L269.39,584.30 L269.36,586.50 L269.36,588.70 L269.40,590.89 L269.46,593.07 L269.56,595.25 L269.69,597.42 L269.85,599.59 L270.05,601.74 L270.29,603.89 L270.56,606.03 L270.88,608.17 L271.23,610.29 L271.62,612.40 L272.06,614.50 L272.53,616.59 L273.04,618.67 L273.59,620.74 L274.17,622.80 L274.79,624.85 L275.45,626.89 L276.14,628.91 L276.86,630.93 L277.62,632.93 L278.42,634.93 L279.24,636.91 L280.10,638.88 L281.00,640.83 L281.92,642.78 L282.87,644.71 L283.86,646.63 L284.87,648.54 L285.91,650.43 L286.98,652.31 L288.08,654.18 L289.21,656.04 L290.36,657.88 L291.54,659.71 L292.75,661.53 L293.98,663.33 L295.24,665.12 L296.52,666.89 L297.82,668.66 L299.15,670.40 L300.50,672.13 L301.87,673.85 L303.26,675.56 L304.68,677.24 L306.11,678.92 L307.56,680.58 L309.04,682.22 L310.53,683.85 L312.04,685.46 L313.58,687.06 L315.13,688.64 L316.69,690.21 L318.28,691.76 L319.88,693.30 L321.50,694.82 L323.14,696.32 L324.80,697.81 L326.47,699.28 L328.15,700.74 L329.86,702.18 L331.58,703.60 L333.31,705.01 L335.06,706.40 L336.82,707.77 L338.60,709.13 L340.39,710.47 L342.19,711.79 L344.01,713.10 L345.84,714.39 L347.69,715.66 L349.54,716.92 L351.41,718.16 L353.29,719.38 L355.18,720.58 L357.09,721.77 L359.00,722.94 L360.93,724.09 L362.86,725.22 L364.81,726.34 L366.76,727.43 L368.73,728.51 L370.70,729.57 L372.68,730.61 L374.67,731.64 L376.67,732.64 L378.68,733.63 L380.69,734.60 L382.71,735.55 L384.74,736.48 L386.77,737.39 L388.82,738.29 L390.86,739.16 L392.92,740.02 L394.98,740.85 L397.04,741.67 L399.11,742.47 L401.18,743.24 L403.26,744.00 L405.34,744.74 L407.43,745.46 L409.52,746.16 L411.61,746.84 L413.71,747.51 L415.81,748.15 L417.92,748.78 L420.03,749.39 L422.14,749.98 L424.26,750.56 L426.39,751.12 L428.51,751.66 L430.64,752.18 L432.78,752.69 L434.92,753.18 L437.06,753.65 L439.20,754.11 L441.35,754.55 L443.51,754.98 L445.66,755.39 L447.82,755.79 L449.99,756.17 L452.15,756.53 L454.33,756.89 L456.50,757.22 L458.68,757.55 L460.86,757.85 L463.04,758.15 L465.23,758.43 L467.42,758.70 L469.61,758.95 L471.81,759.19 L474.01,759.42 L476.21,759.64 L478.42,759.84 L480.63,760.03 L482.84,760.21 L485.06,760.38 L487.27,760.54 L489.50,760.68 L491.72,760.81 L493.94,760.94 L496.17,761.05 L498.41,761.15 L500.64,761.24 L502.88,761.32 L505.12,761.39 L507.36,761.45 L509.60,761.50 L509.60,761.50 L511.84,761.45 L514.08,761.39 L516.32,761.32 L518.56,761.24 L520.79,761.15 L523.03,761.05 L525.26,760.94 L527.48,760.81 L529.70,760.68 L531.93,760.54 L534.14,760.38 L536.36,760.21 L538.57,760.03 L540.78,759.84 L542.99,759.64 L545.19,759.42 L547.39,759.19 L549.59,758.95 L551.78,758.70 L553.97,758.43 L556.16,758.15 L558.34,757.85 L560.52,757.55 L562.70,757.22 L564.87,756.89 L567.05,756.53 L569.21,756.17 L571.38,755.79 L573.54,755.39 L575.69,754.98 L577.85,754.55 L580.00,754.11 L582.14,753.65 L584.28,753.18 L586.42,752.69 L588.56,752.18 L590.69,751.66 L592.81,751.12 L594.94,750.56 L597.06,749.98 L599.17,749.39 L601.28,748.78 L603.39,748.15 L605.49,747.51 L607.59,746.84 L609.68,746.16 L611.77,745.46 L613.86,744.74 L615.94,744.00 L618.02,743.24 L620.09,742.47 L622.16,741.67 L624.22,740.85 L626.28,740.02 L628.34,739.16 L630.38,738.29 L632.43,737.39 L634.46,736.48 L636.49,735.55 L638.51,734.60 L640.52,733.63 L642.53,732.64 L644.53,731.64 L646.52,730.61 L648.50,729.57 L650.47,728.51 L652.44,727.43 L654.39,726.34 L656.34,725.22 L658.27,724.09 L660.20,722.94 L662.11,721.77 L664.02,720.58 L665.91,719.38 L667.79,718.16 L669.66,716.92 L671.51,715.66 L673.36,714.39 L675.19,713.10 L677.01,711.79 L678.81,710.47 L680.60,709.13 L682.38,707.77 L684.14,706.40 L685.89,705.01 L687.62,703.60 L689.34,702.18 L691.05,700.74 L692.73,699.28 L694.40,697.81 L696.06,696.32 L697.70,694.82 L699.32,693.30 L700.92,691.76 L702.51,690.21 L704.07,688.64 L705.62,687.06 L707.16,685.46 L708.67,683.85 L710.16,682.22 L711.64,680.58 L713.09,678.92 L714.52,677.24 L715.94,675.56 L717.33,673.85 L718.70,672.13 L720.05,670.40 L721.38,668.66 L722.68,666.89 L723.96,665.12 L725.22,663.33 L726.45,661.53 L727.66,659.71 L728.84,657.88 L729.99,656.04 L731.12,654.18 L732.22,652.31 L733.29,650.43 L734.33,648.54 L735.34,646.63 L736.33,644.71 L737.28,642.78 L738.20,640.83 L739.10,638.88 L739.96,636.91 L740.78,634.93 L741.58,632.93 L742.34,630.93 L743.06,628.91 L743.75,626.89 L744.41,624.85 L745.03,622.80 L745.61,620.74 L746.16,618.67 L746.67,616.59 L747.14,614.50 L747.58,612.40 L747.97,610.29 L748.32,608.17 L748.64,606.03 L748.91,603.89 L749.15,601.74 L749.35,599.59 L749.51,597.42 L749.64,595.25 L749.74,593.07 L749.80,590.89 L749.84,588.70 L749.84,586.50 L749.81,584.30 L749.76,582.10 L749.68,579.90 L749.58,577.69 L749.45,575.48 L749.30,573.27 L749.12,571.06 L748.93,568.85 L748.71,566.64 L748.48,564.44 L748.23,562.23 L747.97,560.03 L747.69,557.83 L747.40,555.63 L747.09,553.44 L746.77,551.25 L746.45,549.07 L746.11,546.89 L745.77,544.72 L745.41,542.56 L745.05,540.40 L744.68,538.24 L744.31,536.09 L743.92,533.95 L743.53,531.80 L743.14,529.67 L742.73,527.53 L742.32,525.40 L741.90,523.28 L741.48,521.15 L741.05,519.03 L740.62,516.92 L740.18,514.80 L739.73,512.69 L739.28,510.57 L738.83,508.46 L738.37,506.35 L737.91,504.25 L737.44,502.14 L736.97,500.03 L736.50,497.92 L736.03,495.82 L735.55,493.71 L735.07,491.60 L734.58,489.49 L734.10,487.38 L733.61,485.27 L733.12,483.16 L732.63,481.05 L732.13,478.94 L731.63,476.82 L731.13,474.71 L730.63,472.59 L730.12,470.48 L729.61,468.37 L729.10,466.25 L728.58,464.14 L728.06,462.02 L727.53,459.91 L727.00,457.80 L726.47,455.69 L725.93,453.57 L725.39,451.46 L724.84,449.35 L724.29,447.24 L723.73,445.14 L723.17,443.03 L722.60,440.93 L722.03,438.82 L721.45,436.72 L720.86,434.62 L720.28,432.52 L719.68,430.42 L719.08,428.33 L718.47,426.23 L717.86,424.14 L717.24,422.06 L716.61,419.97 L715.98,417.89 L715.34,415.81 L714.69,413.73 L714.03,411.65 L713.37,409.58 L712.70,407.51 L712.03,405.44 L711.34,403.38 L710.65,401.32 L709.95,399.27 L709.24,397.21 L708.52,395.17 L707.80,393.12 L707.07,391.08 L706.32,389.04 L705.57,387.01 L704.81,384.98 L704.04,382.96 L703.27,380.94 L702.48,378.92 L701.68,376.91 L700.88,374.90 L700.06,372.90 L699.24,370.90 L698.41,368.90 L697.57,366.91 L696.72,364.92 L695.86,362.94 L694.99,360.96 L694.12,358.98 L693.23,357.01 L692.34,355.04 L691.44,353.07 L690.52,351.11 L689.60,349.15 L688.68,347.19 L687.74,345.23 L686.79,343.28 L685.84,341.34 L684.87,339.39 L683.90,337.45 L682.92,335.51 L681.93,333.57 L680.93,331.64 L679.93,329.71 L678.91,327.78 L677.89,325.85 L676.86,323.93 L675.82,322.01 L674.77,320.09 L673.71,318.17 L672.64,316.26 L671.57,314.35 L670.49,312.44 L669.40,310.53 L668.30,308.62 L667.19,306.72 L666.07,304.82 L664.95,302.92 L663.82,301.03 L662.68,299.14 L661.54,297.25 L660.38,295.36 L659.22,293.49 L658.06,291.61 L656.89,289.75 L655.71,287.88 L654.52,286.03 L653.33,284.18 L652.14,282.33 L650.93,280.50 L649.73,278.67 L648.51,276.85 L647.30,275.03 L646.08,273.23 L644.85,271.43 L643.62,269.65 L642.39,267.87 L641.15,266.10 L639.90,264.34 L638.66,262.60 L637.41,260.86 L636.16,259.13 L634.90,257.42 L633.65,255.72 L632.39,254.03 L631.12,252.35 L629.86,250.69 L628.59,249.04 L627.32,247.40 L626.05,245.78 L624.78,244.17 L623.51,242.57 L622.24,240.99 L620.96,239.42 L619.69,237.87 L618.41,236.33 L617.14,234.80 L615.86,233.28 L614.58,231.77 L613.31,230.28 L612.03,228.80 L610.76,227.33 L609.48,225.87 L608.21,224.41 L606.94,222.97 L605.67,221.54 L604.40,220.12 L603.13,218.71 L601.86,217.31 L600.59,215.91 L599.33,214.52 L598.07,213.14 L596.81,211.77 L595.55,210.41 L594.30,209.05 L593.05,207.70 L591.80,206.35 L590.55,205.01 L589.30,203.68 L588.05,202.35 L586.80,201.03 L585.55,199.72 L584.31,198.40 L583.06,197.10 L581.81,195.79 L580.56,194.49 L579.31,193.20 L578.06,191.91 L576.81,190.62 L575.55,189.34 L574.29,188.06 L573.03,186.79 L571.77,185.52 L570.50,184.25 L569.23,182.99 L567.96,181.74 L566.68,180.49 L565.39,179.24 L564.11,178.00 L562.81,176.76 L561.51,175.53 L560.21,174.30 L558.90,173.08 L557.58,171.86 L556.26,170.65 L554.93,169.45 L553.59,168.25 L552.24,167.05 L550.89,165.86 L549.53,164.68 L548.16,163.50 L546.78,162.33 L545.39,161.17 L544.00,160.01 L542.59,158.86 L541.17,157.72 L539.75,156.58 L538.31,155.45 L536.87,154.33 L535.41,153.22 L533.94,152.12 L532.46,151.02 L530.97,149.94 L529.47,148.86 L527.95,147.80 L526.43,146.74 L524.89,145.69 L523.34,144.65 L521.77,143.62 L520.19,142.61 L518.60,141.60 L509.60,141.60Z" fill="none" stroke="#7474d6" stroke-width="1.2" stroke-linejoin="round"/>
</g>
<rect x="4.9" y="3.8" width="1009.8000000000001" height="900.3000000000001" fill="none" stroke="#383838" stroke-width="1.8"/>
<g font-family="'DejaVu Sans Condensed','DejaVu Sans',sans-serif" font-stretch="condensed" font-size="16" fill="#333" stroke="#333" stroke-width="0.3">
<text x="12.8" y="928.6" font-size="20.3">cd/klm</text>
<text x="1004.3" y="928.6" font-size="20.3" text-anchor="end">η = 100%</text>
<text x="72.8" y="968.3" letter-spacing="0.4">C0/C180</text>
<text x="72.8" y="994.8" letter-spacing="0.4">C90/C270</text>
</g>
<line x1="13.7" y1="960" x2="64" y2="960" stroke="#f08080" stroke-width="1.6"/>
<line x1="13.7" y1="986.6" x2="64" y2="986.6" stroke="#8080f0" stroke-width="1.6"/>
</svg>
</body></html>
